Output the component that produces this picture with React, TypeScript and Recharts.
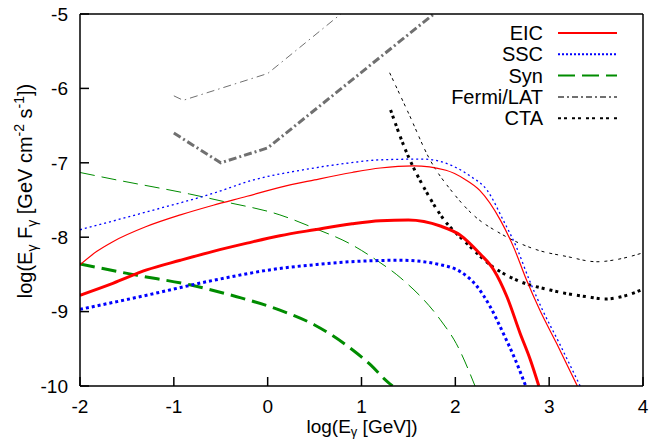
import { LineChart, Line, XAxis, YAxis, Legend } from 'recharts';

const FONT = '"Liberation Sans", Arial, Helvetica, sans-serif';

// axis ticks
const xTicks = [-2, -1, 0, 1, 2, 3, 4];
const yTicks = [-10, -9, -8, -7, -6, -5];

// EIC (thin = upper curve, thick = lower curve)
const eicHighX = [-2, -1.82, -1.65, -1.3, -0.93, -0.58, -0.22, 0.13, 0.5, 0.9, 1.2, 1.55, 1.9, 2.1, 2.26, 2.48, 2.62, 2.76, 2.9, 3.08, 3.3];
const eicHighY = [-8.37, -8.19, -8.06, -7.86, -7.7, -7.57, -7.45, -7.33, -7.23, -7.13, -7.07, -7.04, -7.1, -7.22, -7.37, -7.77, -8.13, -8.58, -8.98, -9.43, -10];
const eicLowX = [-2, -1.65, -1.29, -0.93, -0.58, -0.22, 0.13, 0.5, 0.9, 1.2, 1.5, 1.84, 2.05, 2.26, 2.41, 2.55, 2.69, 2.8, 2.89];
const eicLowY = [-8.78, -8.62, -8.44, -8.31, -8.19, -8.08, -7.98, -7.9, -7.82, -7.78, -7.77, -7.85, -7.97, -8.22, -8.44, -8.8, -9.29, -9.65, -10];

// SSC
const sscHighX = [-2, -1.29, -0.58, -0.15, 0.4, 0.88, 1.2, 1.66, 1.95, 2.16, 2.34, 2.51, 2.65, 2.79, 2.93, 3.11, 3.33];
const sscHighY = [-7.9, -7.66, -7.41, -7.23, -7.09, -7.0, -6.96, -6.95, -7.03, -7.18, -7.37, -7.77, -8.13, -8.58, -8.98, -9.43, -10];
const sscLowX = [-2, -1.29, -0.58, 0.13, 0.5, 0.88, 1.42, 1.84, 2.05, 2.23, 2.37, 2.51, 2.64, 2.75];
const sscLowY = [-8.97, -8.78, -8.58, -8.42, -8.37, -8.33, -8.31, -8.37, -8.46, -8.66, -8.93, -9.29, -9.65, -10];

// Synchrotron
const synHighX = [-2, -1.61, -0.83, -0.47, 0.13, 0.5, 0.88, 1.15, 1.42, 1.84, 2.01, 2.21];
const synHighY = [-7.13, -7.23, -7.42, -7.52, -7.7, -7.88, -8.09, -8.3, -8.55, -9.11, -9.43, -10];
const synLowX = [-2, -1.4, -0.83, -0.33, 0.13, 0.5, 0.91, 1.1, 1.24, 1.33];
const synLowY = [-8.36, -8.51, -8.64, -8.8, -8.98, -9.18, -9.52, -9.72, -9.9, -10];

// Fermi/LAT sensitivity
const fermiHighX = [-1.0, -0.9, 0, 0.78];
const fermiHighY = [-6.1, -6.16, -5.8, -5.0];
const fermiLowX = [-1.0, -0.5, 0, 1.77];
const fermiLowY = [-6.6, -7.0, -6.8, -5.0];

// CTA sensitivity
const ctaHighX = [1.3, 1.5, 1.73, 1.98, 2.19, 2.48, 2.87, 3.19, 3.51, 3.72, 4.0];
const ctaHighY = [-5.79, -6.33, -6.96, -7.41, -7.7, -7.95, -8.17, -8.26, -8.33, -8.3, -8.21];
const ctaLowX = [1.31, 1.47, 1.7, 1.87, 2.12, 2.37, 2.66, 3.01, 3.4, 3.6, 3.8, 4.0];
const ctaLowY = [-6.29, -6.83, -7.41, -7.75, -8.08, -8.37, -8.58, -8.71, -8.8, -8.83, -8.79, -8.7];

const legendNames = ['EIC', 'SSC', 'Syn', 'Fermi/LAT', 'CTA'];

const RED = '#ff0000';
const BLUE = '#0000ff';
const GREEN = '#008c00';
const GRAY = '#707070';
const BLACK = '#000000';

const zip = (xs: number[], ys: number[]) => xs.map((x, i) => ({ x, y: ys[i] }));

type Curve = {
  key: string;
  data: { x: number; y: number }[];
  color: string;
  width: number;
  dash?: string;
  kind: 'monotone' | 'linear';
};

const curves: Curve[] = [
  { key: 'synHigh', data: zip(synHighX, synHighY), color: GREEN, width: 1, dash: '15 7', kind: 'monotone' },
  { key: 'synLow', data: zip(synLowX, synLowY), color: GREEN, width: 3, dash: '15 7', kind: 'monotone' },
  { key: 'fermiHigh', data: zip(fermiHighX, fermiHighY), color: GRAY, width: 1, dash: '8 4 1.5 4', kind: 'linear' },
  { key: 'fermiLow', data: zip(fermiLowX, fermiLowY), color: GRAY, width: 3, dash: '8 3 2 3', kind: 'linear' },
  { key: 'ctaHigh', data: zip(ctaHighX, ctaHighY), color: BLACK, width: 1, dash: '3 3 3 5', kind: 'monotone' },
  { key: 'ctaLow', data: zip(ctaLowX, ctaLowY), color: BLACK, width: 3, dash: '3 3 3 5', kind: 'monotone' },
  { key: 'sscHigh', data: zip(sscHighX, sscHighY), color: BLUE, width: 1.3, dash: '2 3', kind: 'monotone' },
  { key: 'sscLow', data: zip(sscLowX, sscLowY), color: BLUE, width: 3, dash: '3 3', kind: 'monotone' },
  { key: 'eicHigh', data: zip(eicHighX, eicHighY), color: RED, width: 1.2, kind: 'monotone' },
  { key: 'eicLow', data: zip(eicLowX, eicLowY), color: RED, width: 3, kind: 'monotone' },
];

const legendStyle: Record<string, { color: string; dash?: string }> = {
  EIC: { color: RED },
  SSC: { color: BLUE, dash: '2 2' },
  Syn: { color: GREEN, dash: '17 7' },
  'Fermi/LAT': { color: GRAY, dash: '6 3 2 3' },
  CTA: { color: BLACK, dash: '3 3 3 5' },
};

function KeyBox() {
  return (
    <svg width={200} height={110} style={{ display: 'block' }}>
      {legendNames.map((name, i) => {
        const cy = 11 + i * 21.3;
        const s = legendStyle[name];
        return (
          <g key={name}>
            <text x={113} y={cy + 7} textAnchor="end" fontSize={20} fontFamily={FONT} fill="#000">
              {name}
            </text>
            <line x1={128} x2={187} y1={cy} y2={cy} stroke={s.color} strokeWidth={2} strokeDasharray={s.dash} />
          </g>
        );
      })}
    </svg>
  );
}

function XTitle() {
  return (
    <text x={362} y={433} textAnchor="middle" fontSize={19} fontFamily={FONT} fill="#000">
      <tspan>log(E</tspan>
      <tspan fontSize={13} dy={3}>γ</tspan>
      <tspan dy={-3}> [GeV])</tspan>
    </text>
  );
}

function YTitle() {
  return (
    <text transform="translate(32,191) rotate(-90)" textAnchor="middle" fontSize={20} fontFamily={FONT} fill="#000">
      <tspan>log(E</tspan>
      <tspan fontSize={14} dy={5}>γ</tspan>
      <tspan dy={-5}> F</tspan>
      <tspan fontSize={14} dy={5}>γ</tspan>
      <tspan dy={-5}> [GeV cm</tspan>
      <tspan fontSize={14} dy={-8}>-2</tspan>
      <tspan dy={8}> s</tspan>
      <tspan fontSize={14} dy={-8}>-1</tspan>
      <tspan dy={8}>])</tspan>
    </text>
  );
}

export default function App() {
  const tickFont = { fill: '#000', fontSize: 19, fontFamily: FONT };
  const frame = { stroke: '#000', strokeWidth: 1.5 };
  return (
    <div style={{ position: 'absolute', left: 0, top: 0, background: '#fff' }}>
      <LineChart width={663} height={441} margin={{ top: 13, right: 19, bottom: 0, left: 0 }}>
        <XAxis
          dataKey="x"
          type="number"
          domain={[-2, 4]}
          ticks={xTicks}
          allowDataOverflow
          height={55}
          tickSize={-9}
          tickMargin={23}
          tick={tickFont}
          axisLine={frame}
          tickLine={frame}
          label={<XTitle />}
        />
        <XAxis
          xAxisId="top"
          orientation="top"
          type="number"
          domain={[-2, 4]}
          ticks={xTicks}
          height={1}
          tickSize={-9}
          tick={false}
          axisLine={frame}
          tickLine={frame}
        />
        <YAxis
          dataKey="y"
          type="number"
          domain={[-10, -5]}
          ticks={yTicks}
          allowDataOverflow
          width={80}
          tickSize={-9}
          tickMargin={21}
          tick={tickFont}
          axisLine={frame}
          tickLine={frame}
          label={<YTitle />}
        />
        <YAxis
          yAxisId="right"
          orientation="right"
          type="number"
          domain={[-10, -5]}
          ticks={yTicks}
          width={1}
          tickSize={-9}
          tick={false}
          axisLine={frame}
          tickLine={frame}
        />
        <Legend
          layout="vertical"
          align="center"
          verticalAlign="middle"
          content={() => <KeyBox />}
          wrapperStyle={{ left: 430, top: 22, width: 200, height: 110 }}
        />
        {curves.map((c) => (
          <Line
            key={c.key}
            data={c.data}
            dataKey="y"
            type={c.kind}
            stroke={c.color}
            strokeWidth={c.width}
            strokeDasharray={c.dash}
            dot={false}
            activeDot={false}
            legendType="none"
            isAnimationActive={false}
          />
        ))}
      </LineChart>
    </div>
  );
}
